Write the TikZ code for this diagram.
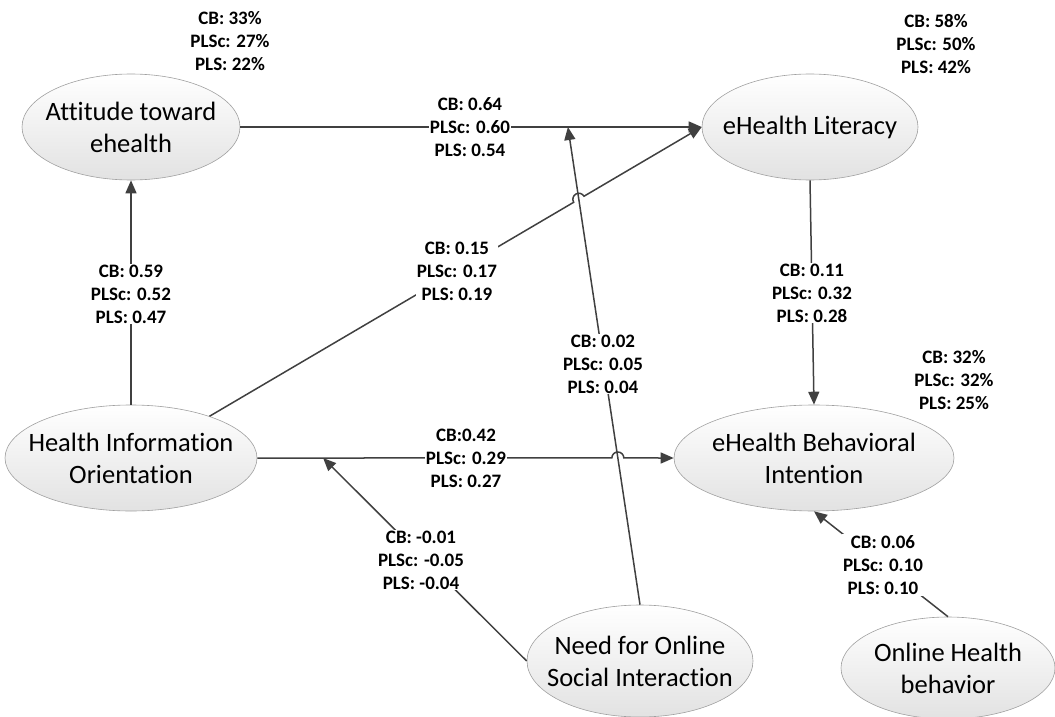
\documentclass[tikz,border=0pt]{standalone}
\usepackage{fontspec}
\setmainfont{Carlito}[Ligatures=NoCommon]
\usetikzlibrary{shapes.geometric,arrows.meta,calc}

\begin{document}
\begin{tikzpicture}[x=1pt,y=-1pt,
  costrutto/.style={ellipse, draw=bordoGray, line width=0.6pt,
    top color=white, bottom color=fillGray,
    inner xsep=-25pt, inner ysep=-8pt, align=center,
    font=\fontsize{26.5}{32}\selectfont},
  coeff/.style={font=\bfseries\fontsize{19}{23}\selectfont, align=center,
    inner sep=1pt, fill=white},
  erre/.style={font=\bfseries\fontsize{19}{23}\selectfont, align=center,
    inner sep=0pt},
  link/.style={draw=lineGray, line width=1.5pt,
    -{Triangle[length=13pt,width=11pt]}}]

% Colori
\definecolor{lineGray}{HTML}{404040}
\definecolor{bordoGray}{HTML}{A0A0A0}
\definecolor{fillGray}{HTML}{E2E2E2}

% Raggio dei salti
\def\hop{6}

\useasboundingbox (0,0) rectangle (1055,717);

% Costrutti
\node[costrutto, minimum width=218pt, minimum height=106pt] (att) at (131,127) {Attitude toward\\ehealth};
\node[costrutto, minimum width=216pt, minimum height=106pt] (lit) at (810,127) {eHealth Literacy};
\node[costrutto, minimum width=252pt, minimum height=106pt] (hio) at (131,458) {Health Information\\Orientation};
\node[costrutto, minimum width=280pt, minimum height=106pt] (ebi) at (814,458) {eHealth Behavioral\\Intention};
\node[costrutto, minimum width=226pt, minimum height=112pt] (nosi) at (640,661) {Need for Online\\Social Interaction};
\node[costrutto, minimum width=214pt, minimum height=102pt] (ohb) at (948,668) {Online Health\\behavior};

% Punti d'appoggio
\coordinate (h1) at (hio.28);
\coordinate (t1) at ($(att.east)!0.71!(lit.west)$);
\coordinate (t2) at ($(hio.east)!0.158!(ebi.west)$);
\coordinate (x1) at (intersection of h1--lit.west and nosi.north--t1);
\coordinate (x2) at (intersection of hio.east--ebi.west and nosi.north--t1);

% Percorsi
\draw[link] (hio.north) -- (att.south);
\draw[link] (att.east) -- (lit.west);
\draw[link] (nosi.north) -- (t1);
\draw[link] (nosi.west) -- (t2);
\draw[link] (h1) -- ($(x1)!\hop pt!(h1)$) arc[start angle=149.6, end angle=329.6, radius=\hop] -- (lit.west);
\draw[link] (hio.east) -- ($(x2)!\hop pt!(hio.east)$) arc[start angle=180, end angle=360, radius=\hop] -- (ebi.west);
\draw[link] (lit.south) -- (ebi.north);
\draw[link] (ohb.north) -- (ebi.south);

% Coefficienti
\node[coeff] (c1) at (131,294) {CB: 0.59\\PLSc: 0.52\\PLS: 0.47};
\node[coeff] (c2) at (470,127) {CB: 0.64\\PLSc: 0.60\\PLS: 0.54};
\node[coeff] (c3) at (457,271) {CB: 0.15\\PLSc: 0.17\\PLS: 0.19};
\node[coeff] (c4) at (603,364) {CB: 0.02\\PLSc: 0.05\\PLS: 0.04};
\node[coeff] (c5) at (466,458) {CB:0.42\\PLSc: 0.29\\PLS: 0.27};
\node[coeff] (c6) at (421,560) {CB: -0.01\\PLSc: -0.05\\PLS: -0.04};
\node[coeff] (c7) at (812,293) {CB: 0.11\\PLSc: 0.32\\PLS: 0.28};
\node[coeff] (c8) at (883,565) {CB: 0.06\\PLSc: 0.10\\PLS: 0.10};

% Varianza spiegata
\node[erre] (r1) at (230,41) {CB: 33\%\\PLSc: 27\%\\PLS: 22\%};
\node[erre] (r2) at (936,44) {CB: 58\%\\PLSc: 50\%\\PLS: 42\%};
\node[erre] (r3) at (954,380) {CB: 32\%\\PLSc: 32\%\\PLS: 25\%};

\end{tikzpicture}
\end{document}
